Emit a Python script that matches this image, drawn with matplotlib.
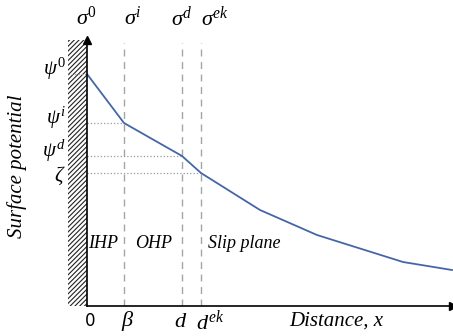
import matplotlib.pyplot as plt
import matplotlib.transforms as mtransforms
from matplotlib.patches import Rectangle

plt.rcParams['hatch.linewidth'] = 0.8
plt.rcParams['mathtext.fontset'] = 'custom'
plt.rcParams['mathtext.it'] = 'Liberation Serif:italic'
plt.rcParams['mathtext.rm'] = 'Liberation Serif'

# distance (arbitrary units) and surface potential
distance = [0, 3.7, 9.5, 11.4, 17.3, 23.0, 31.6, 36.5]
potential = [23.2, 18.3, 15.0, 13.3, 9.6, 7.1, 4.4, 3.6]

# boundary planes: beta (IHP), d (OHP), d_ek (slip plane)
planes = [3.7, 9.5, 11.4]
plane_ticks = [r'$\beta$', r'$d$', r'$d^{ek}$']
charges = [r'$\sigma^{0}$', r'$\sigma^{i}$', r'$\sigma^{d}$', r'$\sigma^{ek}$']
psi_labels = [r'$\psi^{0}$', r'$\psi^{i}$', r'$\psi^{d}$', r'$\zeta$']
psi_values = [23.2, 18.3, 15.0, 13.3]
regions = ['IHP', 'OHP', 'Slip plane']

xmax, ymax = 36.6, 26.6
serif = dict(family='Liberation Serif', style='italic')

fig = plt.figure(figsize=(4.53, 3.36), dpi=100)
ax = fig.add_axes([87 / 453, 30 / 336, 366 / 453, 266 / 336])
ax.set_xlim(0, xmax)
ax.set_ylim(0, ymax)
for s in ax.spines.values():
    s.set_visible(False)
ax.set_xticks([])
ax.set_yticks([])

# wall (hatched)
ax.add_patch(Rectangle((-1.9, 0), 1.9, ymax, facecolor='white', edgecolor='#222222',
                       hatch='///////', linewidth=0, clip_on=False, zorder=1))

# axes with arrow heads
ax.plot([0, xmax], [0, 0], color='k', lw=1.2, clip_on=False, zorder=5)
ax.plot([0, 0], [0, ymax], color='k', lw=1.2, clip_on=False, zorder=5)
ax.plot(xmax, 0, '>', color='k', ms=6, clip_on=False, zorder=6)
ax.plot(0, ymax, '^', color='k', ms=6, clip_on=False, zorder=6)

# dashed planes
for p in planes:
    ax.plot([p, p], [0, ymax - 0.3], color='#a5a5a5', lw=1.0, ls=(0, (5, 4)), zorder=2)

# dotted guides to the potential levels
ax.plot([-1.9, 0], [psi_values[0]] * 2, color='#9a9a9a', lw=0.9, ls=':', clip_on=False, zorder=2)
for xv, yv in zip(planes, psi_values[1:]):
    ax.plot([0, xv], [yv, yv], color='#9a9a9a', lw=0.9, ls=':', zorder=2)

# potential profile
ax.plot(distance, potential, color='#4566a6', lw=1.3, zorder=4)

top = mtransforms.blended_transform_factory(ax.transData, ax.transAxes)
for xv, lab, ha in zip([0] + planes, charges, ['center', 'left', 'center', 'left']):
    ax.text(xv, 1.085, lab, transform=top, ha=ha, va='center', fontsize=16, clip_on=False)

for yv, lab, off in zip(psi_values, psi_labels, [0.5, 0.5, 0.5, -0.3]):
    ax.text(-2.1, yv + off, lab, ha='right', va='center', fontsize=15, clip_on=False)

bottom = -1.5
ax.text(0.3, bottom, '0', ha='center', va='center', fontsize=12, family='DejaVu Sans', clip_on=False)
ax.text(planes[0] + 0.4, bottom, plane_ticks[0], ha='center', va='center', fontsize=16, clip_on=False)
ax.text(planes[1] - 0.1, bottom, plane_ticks[1], ha='center', va='center', fontsize=16, clip_on=False)
ax.text(planes[2] - 0.5, bottom, plane_ticks[2], ha='left', va='center', fontsize=16, clip_on=False)
ax.text(24.9, bottom, 'Distance, x', ha='center', va='center', fontsize=15, clip_on=False, **serif)

ax.text(0.1, 6.3, regions[0], ha='left', va='center', fontsize=13, **serif)
ax.text(4.8, 6.3, regions[1], ha='left', va='center', fontsize=13, **serif)
ax.text(12.1, 6.3, regions[2], ha='left', va='center', fontsize=13, **serif)

fig.text(17 / 453, 1 - 166 / 336, 'Surface potential', rotation=90, ha='center', va='center',
         fontsize=15, **serif)

fig.savefig('out.png', dpi=100)
